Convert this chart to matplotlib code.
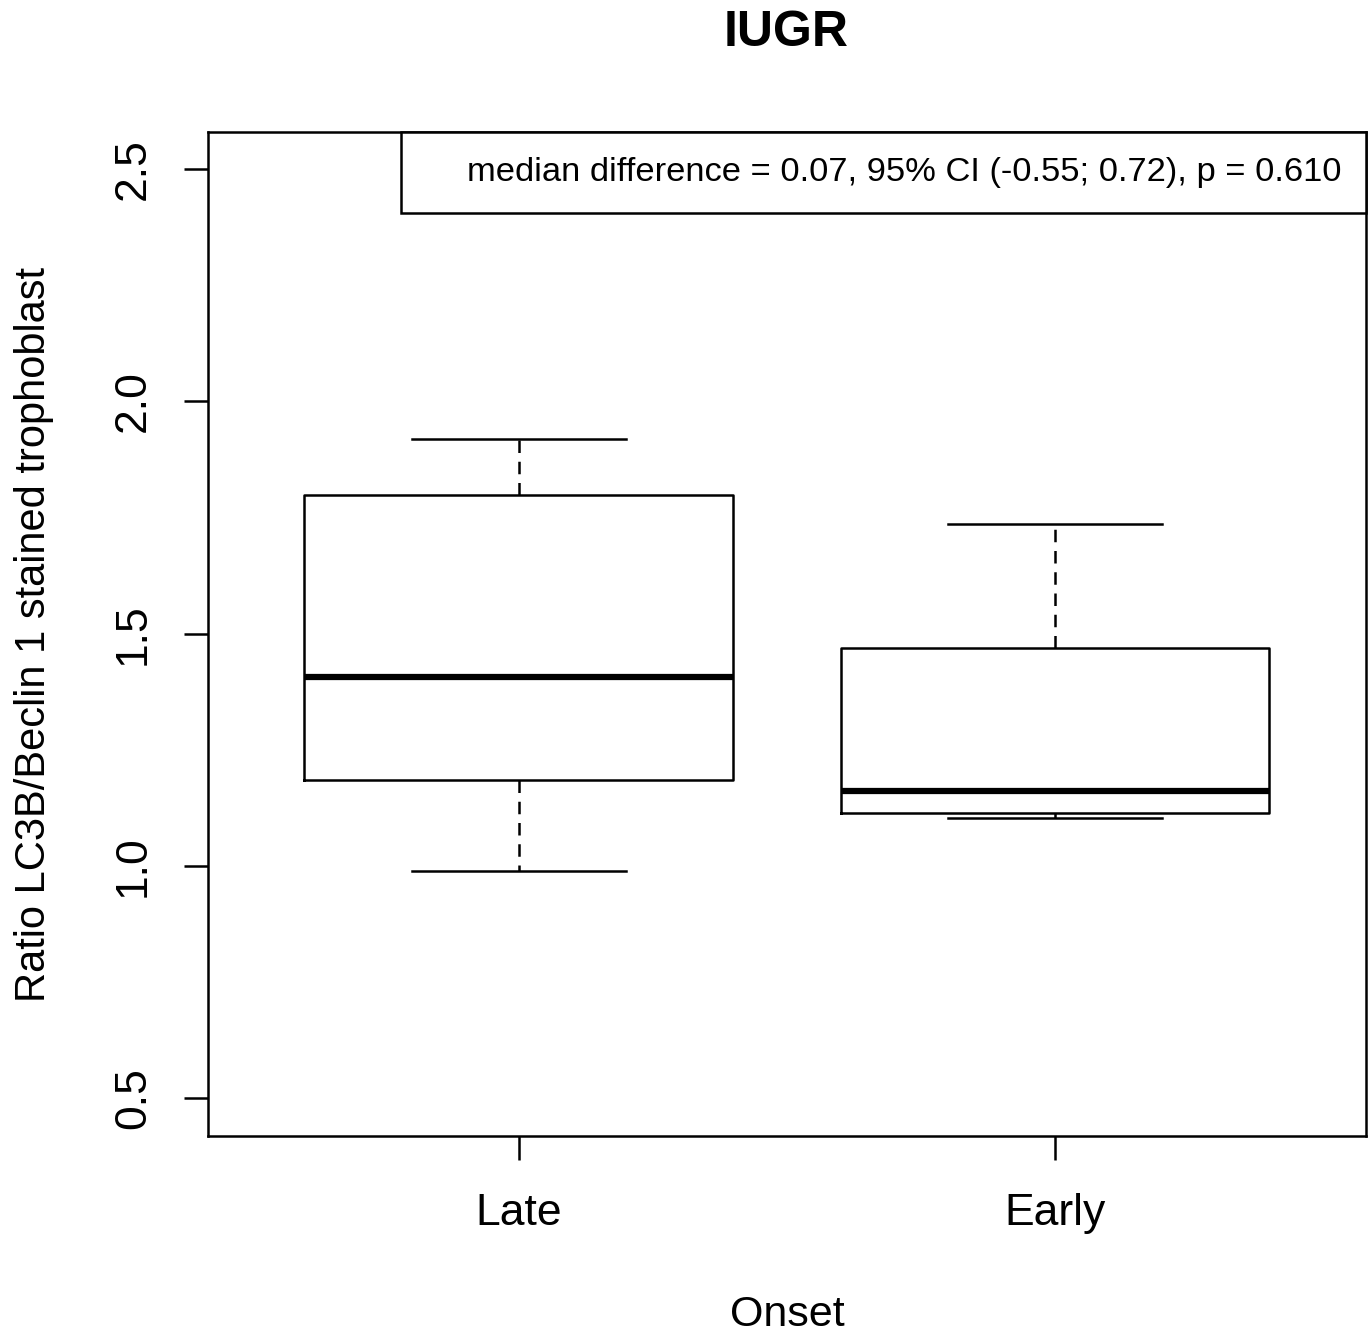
import matplotlib.pyplot as plt
from matplotlib.lines import Line2D

plt.rcParams['font.family'] = ['Liberation Sans Narrow', 'Liberation Sans', 'DejaVu Sans']

# box statistics
groups = ["Late", "Early"]
whislo = [0.989, 1.103]
q1 = [1.185, 1.114]
med = [1.406, 1.161]
q3 = [1.798, 1.469]
whishi = [1.919, 1.736]

note = "median difference = 0.07, 95% CI (-0.55; 0.72), p = 0.610"

stats = []
for i in range(len(groups)):
    stats.append({"label": groups[i], "whislo": whislo[i], "q1": q1[i], "med": med[i],
                  "q3": q3[i], "whishi": whishi[i], "fliers": []})

fig = plt.figure(figsize=(13.72, 13.35), dpi=100)
ax = fig.add_axes([0.1516, 0.149, 0.844, 0.752])

lw = 1.8
ax.bxp(stats, positions=[1, 2], widths=0.8, showfliers=False,
       boxprops=dict(color="black", linewidth=lw),
       medianprops=dict(color="black", linewidth=4.5, solid_capstyle="butt"),
       whiskerprops=dict(color="black", linewidth=lw, linestyle=(0, (5, 3.5))),
       capprops=dict(color="black", linewidth=lw), capwidths=0.4)

ax.set_xlim(0.42, 2.58)
ax.set_ylim(0.418, 2.58)
ax.set_yticks([0.5, 1.0, 1.5, 2.0, 2.5])
ax.set_yticklabels(["0.5", "1.0", "1.5", "2.0", "2.5"], rotation=90, va="center")
ax.set_xticks([1, 2])
ax.set_xticklabels(groups)
ax.tick_params(axis="both", labelsize=32, length=17, width=lw, pad=24)
ax.tick_params(axis="y", pad=22)
for s in ax.spines.values():
    s.set_linewidth(lw)

ax.set_xlabel("Onset", fontsize=31, labelpad=44)
ax.set_ylabel("Ratio LC3B/Beclin 1 stained trophoblast", fontsize=30, labelpad=42)
fig.text(0.573, 0.975, "IUGR", fontsize=36, fontweight="bold", ha="center", va="center",
         family=['Liberation Sans', 'DejaVu Sans'])

blank = Line2D([], [], color="none")
leg = ax.legend([blank], [note], loc="upper right", borderaxespad=0, fancybox=False,
                edgecolor="black", framealpha=1, fontsize=24.8, handlelength=1.0,
                handletextpad=0.2, borderpad=0.72)
leg.get_frame().set_linewidth(lw)

fig.savefig("out.png", dpi=100)
